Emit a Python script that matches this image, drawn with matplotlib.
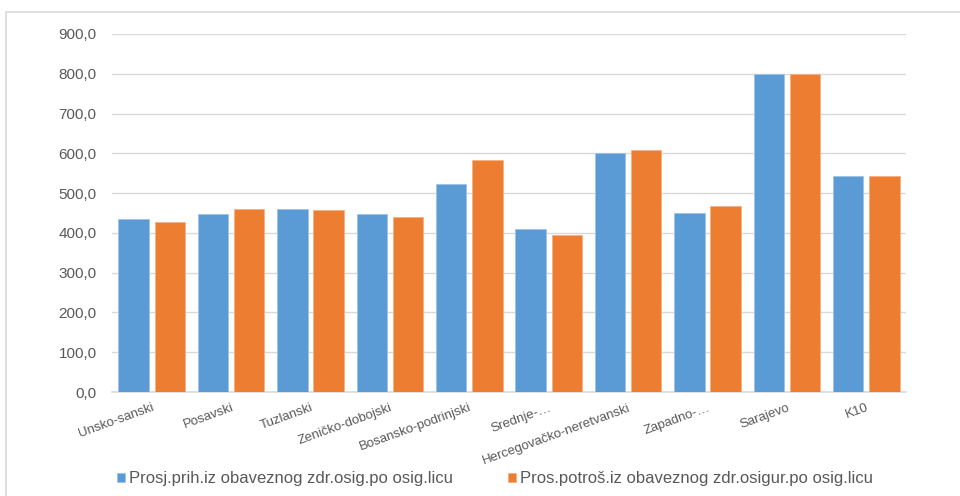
import numpy as np
import matplotlib
matplotlib.use("Agg")
import matplotlib.pyplot as plt
from matplotlib.patches import Rectangle

plt.rcParams['font.family'] = ['Liberation Sans', 'DejaVu Sans']

# data
cantons = ["Unsko-sanski", "Posavski", "Tuzlanski", "Zeničko-dobojski", "Bosansko-podrinjski",
           "Srednje-…", "Hercegovačko-neretvanski", "Zapadno-…", "Sarajevo", "K10"]
prihodi = [435, 447, 460, 447, 523, 411, 600, 451, 799, 543]
potrosnja = [428, 460, 458, 440, 583, 395, 609, 468, 799, 543]
series_names = ["Prosj.prih.iz obaveznog zdr.osig.po osig.licu",
                "Pros.potroš.iz obaveznog zdr.osigur.po osig.licu"]
yticks = np.arange(0, 901, 100)

blue = "#5B9BD5"
orange = "#ED7D31"
grey_txt = "#595959"
grid_c = "#D9D9D9"

W, H = 960, 496
fig = plt.figure(figsize=(W / 100, H / 100), dpi=100)

# outer chart frame (runs off right and bottom)
fig.patches.append(Rectangle((6 / W, -0.1), 1.2, 1.1 - 12 / H, transform=fig.transFigure,
                             fill=False, edgecolor=grid_c, linewidth=1.2))

ax = fig.add_axes([112 / W, 1 - 392 / H, (906 - 112) / W, (392 - 34) / H])

x = np.arange(len(cantons))
bw = 0.385
off = 0.228
b1 = ax.bar(x - off, prihodi, bw, color=blue, edgecolor="#9DC3E6", linewidth=0.6,
            label=series_names[0], zorder=3)
b2 = ax.bar(x + off, potrosnja, bw, color=orange, edgecolor="#F4B183", linewidth=0.6,
            label=series_names[1], zorder=3)

ax.set_xlim(-0.5, len(cantons) - 0.5)
ax.set_ylim(0, 900)
ax.set_yticks(yticks)
ax.set_yticklabels([f"{v:.1f}".replace(".", ",") for v in yticks], fontsize=11, color=grey_txt)
ax.yaxis.grid(True, color=grid_c, linewidth=1, zorder=0)
ax.set_axisbelow(True)

ax.set_xticks(x)
ax.set_xticklabels(cantons, rotation=20, ha="right", rotation_mode="anchor",
                   fontsize=9.5, color=grey_txt)
ax.tick_params(axis="both", length=0)
ax.tick_params(axis="y", pad=11)
ax.tick_params(axis="x", pad=7)

for s in ["top", "right", "left"]:
    ax.spines[s].set_visible(False)
ax.spines["bottom"].set_color(grid_c)
ax.spines["bottom"].set_linewidth(1.2)

fig.legend(handles=[b1, b2], loc="center", bbox_to_anchor=(495 / W, 1 - 479 / H), ncol=2,
           frameon=False, fontsize=12, handlelength=0.45, handleheight=0.45,
           handletextpad=0.25, columnspacing=3.3, labelcolor=grey_txt)

fig.savefig("out.png", dpi=100)
